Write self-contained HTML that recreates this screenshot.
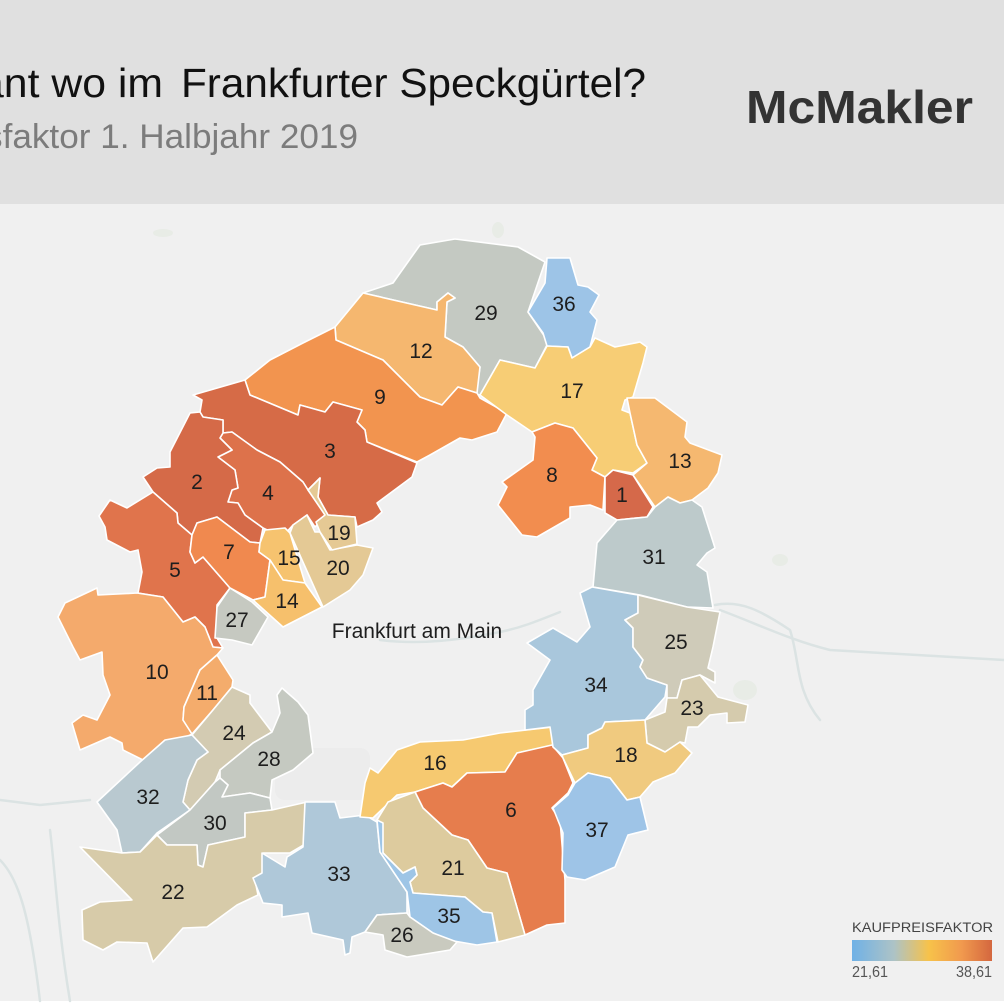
<!DOCTYPE html>
<html><head><meta charset="utf-8"><style>
html,body{margin:0;padding:0;background:#fff;}
body{width:1004px;height:1003px;overflow:hidden;position:relative;}
svg{display:block;}
</style></head><body>
<svg width="1004" height="1003" viewBox="0 0 1004 1003" xmlns="http://www.w3.org/2000/svg" font-family="'Liberation Sans', sans-serif">
<defs>
<linearGradient id="lg" x1="0" x2="1" y1="0" y2="0">
<stop offset="0" stop-color="#6fb1e6"/>
<stop offset="0.3" stop-color="#adc3c6"/>
<stop offset="0.55" stop-color="#f7c24a"/>
<stop offset="0.78" stop-color="#f19a4e"/>
<stop offset="1" stop-color="#d4673f"/>
</linearGradient>
</defs>
<rect x="0" y="0" width="1004" height="1003" fill="#ffffff"/>
<rect x="0" y="204" width="1004" height="797" fill="#f0f0f0"/>
<rect x="0" y="0" width="1004" height="204" fill="#e0e0e0"/>
<g fill="none" stroke="#dbe3e3" stroke-width="2.5" stroke-linejoin="round" stroke-linecap="round">
<path d="M50,830 C55,870 58,930 70,1001"/>
<path d="M0,860 C20,880 30,920 40,1001"/>
<path d="M0,800 L40,805 L90,800"/>
<path d="M380,640 C420,645 460,640 500,632 C520,628 535,622 560,612"/>
<path d="M715,605 C740,600 760,610 790,630 C800,660 795,690 820,720"/>
<path d="M720,610 C760,625 790,640 830,650 L1004,660"/>
</g>
<g fill="#e8ece6">
<ellipse cx="163" cy="233" rx="10" ry="4"/>
<ellipse cx="498" cy="230" rx="6" ry="8"/>
<ellipse cx="745" cy="690" rx="12" ry="10"/>
<ellipse cx="780" cy="560" rx="8" ry="6"/>
</g>
<rect x="275" y="748" width="95" height="52" fill="#ececec" rx="10"/>
<g stroke="#ffffff" stroke-width="1.6" stroke-linejoin="round">
<polygon fill="#c4c9c2" points="363,293 393,283 420,245 455,239 518,247 545,262 528,312 545,337 547,345 535,368 500,360 480,395 476,394 480,367 463,347 445,337 447,302 455,298 448,293 437,302 437,310"/>
<polygon fill="#f5b76f" points="363,293 437,310 437,302 448,293 455,298 447,302 445,337 463,347 480,367 477,393 458,387 442,405 420,397 383,360 336,340 335,327"/>
<polygon fill="#f2944f" points="245,380 250,395 298,415 300,405 325,412 333,402 362,410 357,422 365,430 367,442 417,462 430,455 460,438 472,440 497,432 507,413 480,398 477,393 458,387 442,405 420,397 383,360 336,340 335,327 303,343 270,360"/>
<polygon fill="#d66b47" points="193,395 245,380 250,395 298,415 300,405 325,412 333,402 362,410 357,422 365,430 367,442 417,463 412,477 377,503 382,512 373,520 357,527 355,517 328,515 318,497 320,478 308,490 303,482 280,462 257,450 232,432 223,433 223,420 203,417 200,412 202,400"/>
<polygon fill="#dd724b" points="223,433 220,438 232,450 218,457 235,470 238,488 232,490 228,502 238,503 245,515 263,528 282,537 293,525 307,515 315,527 327,515 308,490 303,482 280,462 257,450 232,432"/>
<polygon fill="#d56a48" points="190,413 200,412 203,417 223,420 223,433 220,438 232,450 218,457 235,470 238,488 232,490 228,502 238,503 245,515 263,528 260,543 250,542 217,517 197,523 192,535 178,523 177,513 153,492 143,477 157,468 170,467 170,452"/>
<polygon fill="#e0744c" points="153,492 127,508 110,500 99,516 105,527 107,540 130,552 138,550 142,572 138,593 163,597 183,622 195,617 205,627 213,647 223,648 217,638 217,605 230,588 203,557 195,563 190,552 192,535 178,523 177,513"/>
<polygon fill="#f0894f" points="192,535 197,523 217,517 250,542 260,543 259,552 270,560 265,597 253,600 230,588 203,557 195,563 190,552"/>
<polygon fill="#f6c36f" points="260,543 265,530 285,528 290,533 305,583 283,580 270,560 259,552"/>
<polygon fill="#f6c06c" points="270,560 283,580 305,583 322,607 283,627 253,600 265,597"/>
<polygon fill="#e4c995" points="290,533 293,525 307,515 315,532 320,532 330,550 357,545 373,548 363,575 350,590 323,607"/>
<polygon fill="#e5c994" points="320,478 318,497 328,515 355,517 357,544 332,550 320,532 316,522 325,515 308,490"/>
<polygon fill="#c6c9c1" points="230,588 252,602 268,617 252,645 232,640 215,638 217,607"/>
<polygon fill="#f4aa6c" points="97,588 98,595 137,593 163,597 183,622 195,617 205,627 213,647 223,648 217,655 200,670 184,707 183,720 192,734 163,750 143,760 123,750 122,743 110,737 80,750 72,723 83,715 97,720 110,695 103,675 102,652 80,660 73,647 58,617 65,603"/>
<polygon fill="#f4ac6c" points="217,655 233,680 232,687 213,710 192,734 183,720 184,707 200,670"/>
<polygon fill="#d3cbb2" points="232,687 250,695 250,703 272,732 253,743 220,770 215,782 190,810 183,802 188,780 197,760 208,752 192,735 213,710"/>
<polygon fill="#c5c9c1" points="272,732 280,713 277,695 282,688 298,702 308,715 313,753 293,770 272,780 270,798 250,793 222,797 228,785 220,778 220,770 253,743"/>
<polygon fill="#b9c9d0" points="192,735 208,752 197,760 188,780 183,802 190,810 157,833 140,852 122,853 117,830 97,802 140,762 165,740"/>
<polygon fill="#c2c8c3" points="190,810 215,782 220,778 228,785 222,797 250,793 270,798 272,810 245,813 245,837 208,845 203,867 198,865 197,845 167,845 157,835"/>
<polygon fill="#d7cba9" points="80,847 122,853 140,852 157,835 167,845 197,845 198,865 203,867 208,845 245,837 245,813 272,810 307,802 307,843 290,853 263,853 267,875 255,880 258,895 237,905 207,927 183,928 153,962 147,943 117,942 103,950 83,940 82,910 100,902 132,900"/>
<polygon fill="#afc8d9" points="305,802 335,802 340,818 365,815 377,822 380,852 407,892 407,913 377,915 365,932 352,937 350,953 345,955 343,940 312,933 308,913 282,917 282,905 263,903 253,878 262,873 262,853 285,867 287,857 303,847"/>
<polygon fill="#f6c970" points="360,817 365,783 370,768 378,773 397,750 420,742 463,740 500,733 553,727 568,742 517,753 505,772 467,773 452,787 443,783 415,792 397,795 373,818"/>
<polygon fill="#e67d4d" points="415,792 443,783 452,787 467,773 505,772 517,753 552,745 563,758 573,783 568,793 552,808 560,820 565,880 565,923 547,925 525,935 507,873 487,868 468,840 452,835 423,808"/>
<polygon fill="#ddcb9e" points="377,820 388,802 415,792 423,808 452,835 468,840 487,868 507,873 525,935 498,942 492,913 483,912 465,897 413,893 410,882 417,875 415,867 403,873 383,853"/>
<polygon fill="#9ec5e6" points="377,820 383,823 383,853 403,873 415,867 417,875 410,882 413,893 465,897 483,912 492,913 497,942 477,945 448,940 433,933 410,917 407,892 380,852"/>
<polygon fill="#c9cabf" points="377,915 407,913 410,917 433,933 457,942 450,950 407,957 385,950 383,935 365,932"/>
<polygon fill="#9dc4e7" points="547,258 570,258 578,285 588,287 599,295 590,312 597,320 590,347 572,358 568,347 547,346 543,333 528,312 545,283"/>
<polygon fill="#f7cd75" points="547,346 568,347 572,358 590,347 595,338 615,347 640,342 647,347 643,363 633,397 625,400 622,410 630,413 637,445 647,463 633,473 613,470 605,477 592,470 597,458 573,428 555,423 532,432 507,415 480,395 500,360 535,368"/>
<polygon fill="#f28d4f" points="532,432 555,423 573,428 597,458 592,470 605,477 603,510 590,505 570,507 570,518 537,537 522,535 498,505 507,487 502,482 533,460 535,437"/>
<polygon fill="#d5694a" points="605,477 613,470 633,475 653,507 647,517 617,520 605,513"/>
<polygon fill="#f5b870" points="633,475 647,463 637,445 630,413 627,398 655,398 687,422 685,437 690,443 722,455 718,473 708,488 692,500 680,503 668,497 655,507"/>
<polygon fill="#bdcacb" points="617,520 647,517 655,507 668,497 680,503 692,500 702,507 715,548 707,553 697,565 707,572 713,608 687,607 640,595 593,587 597,543"/>
<polygon fill="#a9c7dc" points="592,587 638,595 638,613 625,620 633,628 633,647 643,660 640,667 647,678 667,685 665,697 645,720 605,722 602,728 588,735 588,748 562,755 553,747 550,727 525,730 525,710 533,705 533,690 550,660 527,643 553,628 577,642 590,627 580,593"/>
<polygon fill="#cfcbb9" points="638,595 687,607 720,612 713,647 708,668 715,672 715,683 700,675 682,680 677,698 667,698 667,685 647,678 640,667 643,660 633,647 633,628 625,620 638,613"/>
<polygon fill="#d5cbad" points="667,698 677,698 682,680 700,675 718,697 748,705 745,722 727,723 727,713 710,715 698,727 688,727 685,743 680,742 665,752 647,743 645,720 665,712"/>
<polygon fill="#f0ca7f" points="562,755 588,748 588,735 602,728 605,722 645,720 647,743 665,752 680,742 692,753 675,773 653,782 640,797 627,800 610,778 588,773 575,783 563,758"/>
<polygon fill="#9ec4e7" points="575,783 588,773 610,778 627,800 640,797 648,830 628,835 615,867 585,880 567,877 562,870 563,833 553,808 568,795"/>
</g>
<g font-size="21" fill="#1e1e1e" text-anchor="middle">
<text x="622" y="502">1</text>
<text x="197" y="489">2</text>
<text x="330" y="458">3</text>
<text x="268" y="500">4</text>
<text x="175" y="577">5</text>
<text x="511" y="817">6</text>
<text x="229" y="559">7</text>
<text x="552" y="482">8</text>
<text x="380" y="404">9</text>
<text x="157" y="679">10</text>
<text x="207" y="700">11</text>
<text x="421" y="358">12</text>
<text x="680" y="468">13</text>
<text x="287" y="608">14</text>
<text x="289" y="565">15</text>
<text x="435" y="770">16</text>
<text x="572" y="398">17</text>
<text x="626" y="762">18</text>
<text x="339" y="540">19</text>
<text x="338" y="575">20</text>
<text x="453" y="875">21</text>
<text x="173" y="899">22</text>
<text x="692" y="715">23</text>
<text x="234" y="740">24</text>
<text x="676" y="649">25</text>
<text x="402" y="942">26</text>
<text x="237" y="627">27</text>
<text x="269" y="766">28</text>
<text x="486" y="320">29</text>
<text x="215" y="830">30</text>
<text x="654" y="564">31</text>
<text x="148" y="804">32</text>
<text x="339" y="881">33</text>
<text x="596" y="692">34</text>
<text x="449" y="923">35</text>
<text x="564" y="311">36</text>
<text x="597" y="837">37</text>
</g>
<text x="417" y="638" font-size="21" fill="#1e1e1e" text-anchor="middle">Frankfurt am Main</text>
<text x="-20" y="97" font-size="41" fill="#111" textLength="183" lengthAdjust="spacingAndGlyphs">ant wo im</text>
<text x="181" y="97" font-size="41" fill="#111" textLength="465" lengthAdjust="spacingAndGlyphs">Frankfurter Speckgürtel?</text>
<text x="-15" y="148" font-size="34.5" fill="#7c7c7c" textLength="373" lengthAdjust="spacingAndGlyphs">sfaktor 1. Halbjahr 2019</text>
<text x="746" y="123" font-size="46" font-weight="bold" fill="#333333" textLength="227" lengthAdjust="spacingAndGlyphs">McMakler</text>
<text x="852" y="932" font-size="13.5" fill="#444" textLength="141" lengthAdjust="spacingAndGlyphs">KAUFPREISFAKTOR</text>
<rect x="852" y="940" width="140" height="21" fill="url(#lg)"/>
<text x="852" y="977" font-size="16" fill="#555" textLength="36" lengthAdjust="spacingAndGlyphs">21,61</text>
<text x="956" y="977" font-size="16" fill="#555" textLength="36" lengthAdjust="spacingAndGlyphs">38,61</text>
</svg>
</body></html>
